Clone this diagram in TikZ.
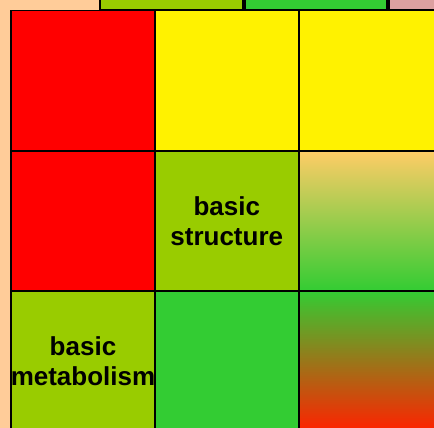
\documentclass[tikz,border=0pt]{standalone}
\usepackage{fontspec}
\setmainfont{Liberation Sans}
\definecolor{peach}{HTML}{FFCC99}
\definecolor{lime}{HTML}{99CC00}
\definecolor{leaf}{HTML}{33CC33}
\definecolor{rose}{HTML}{DDA0A0}
\definecolor{apricot}{HTML}{FFCC66}
\definecolor{flame}{HTML}{FF2200}

\begin{document}
\begin{tikzpicture}[
        x=1pt, y=-1pt,
        cell/.style={rectangle, draw=black, line width=1.5pt, minimum width=144pt, minimum height=140pt, inner sep=0pt, anchor=north west, align=center, font=\bfseries\fontsize{26}{30}\selectfont},
        bad/.style={cell, fill=red},
        weak/.style={cell, fill=yellow},
        fair/.style={cell, fill=lime},
        good/.style={cell, fill=leaf}
    ]
        % Canvas
        \useasboundingbox (0,0) rectangle (434,428);
        \fill[peach] (0,0) rectangle (434,428);
        \clip (0,0) rectangle (434,428);

        % Row above (cut off)
        \node (top1) [fair, minimum width=143pt] at (99,-131) {};
        \node (top2) [good, minimum width=142pt] at (244,-131) {};
        \node (top3) [cell, fill=rose] at (388,-131) {};

        % Row 1
        \node (c11) [bad] at (10,10) {};
        \node (c12) [weak] at (154,10) {};
        \node (c13) [weak] at (298,10) {};

        % Row 2
        \node (c21) [bad] at (10,150) {};
        \node (c22) [fair] at (154,150) {basic\\structure};
        \node (c23) [cell, top color=apricot, bottom color=leaf, middle color=apricot!50!leaf] at (298,150) {};

        % Row 3
        \node (c31) [fair] at (10,290) {basic\\metabolism};
        \node (c32) [good] at (154,290) {};
        \node (c33) [cell, top color=leaf, bottom color=flame] at (298,290) {};
    \end{tikzpicture}
\end{document}
